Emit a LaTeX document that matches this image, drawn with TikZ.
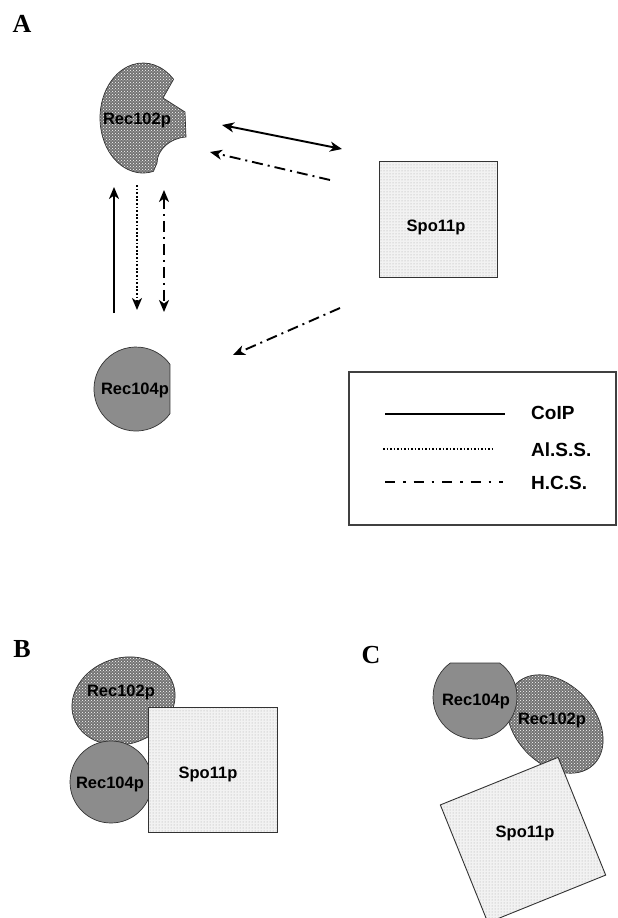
\documentclass[tikz,border=0pt]{standalone}
\usepackage{fontspec}
\setmainfont{Liberation Serif}
\setsansfont{Liberation Sans}
\usepackage{tikz}
\usetikzlibrary{arrows.meta, calc, positioning, patterns}

\tikzset{
  prot/.style={font=\sffamily\bfseries\fontsize{16.5}{18}\selectfont, inner sep=0pt},
  panel/.style={font=\bfseries\fontsize{26}{26}\selectfont, inner sep=0pt},
  legtext/.style={font=\sffamily\bfseries\fontsize{19}{20}\selectfont, inner sep=0pt, anchor=west},
  rec102/.style={draw=black!80, line width=0.7pt, preaction={fill=black!55}, pattern=crosshatch dots, pattern color=white},
  rec104/.style={draw=black!80, line width=0.7pt, fill=black!45},
  spo11/.style={draw=black!80, line width=0.9pt, preaction={fill=black!5}, pattern=dots, pattern color=black!35},
  coip/.style={line width=1.9pt},
  alss/.style={line width=1.9pt, dash pattern=on 1.8pt off 1.8pt},
  hcs/.style={line width=1.9pt, dash pattern=on 11pt off 5pt on 2pt off 5pt},
}

\begin{document}
\begin{tikzpicture}[x=1pt, y=-1pt, >={Stealth[length=12pt,width=10pt,inset=3.5pt]}]
\useasboundingbox (0,0) rectangle (618,918);

% Panel labels
\node[panel] (labA) at (22,24) {A};
\node[panel] (labB) at (22,649) {B};
\node[panel] (labC) at (371,655) {C};

% A: proteins
\draw[rec102] ($(143,118)+(76:43 and 55)$) arc[start angle=76, end angle=315.3, x radius=43, y radius=55]
  -- (163,98) -- (185,112) -- (186,137) .. controls (170,138) and (157,150) .. (157,163) -- cycle;
\draw[spo11] (379,161) rectangle (497,277);
\draw[rec104] ($(136,389)+(36:42)$) arc[start angle=36, end angle=324, radius=42] -- cycle;
\node[prot] (r102a) at (137,120) {Rec102p};
\node[prot] (s11a) at (436,227) {Spo11p};
\node[prot] (r104a) at (135,390) {Rec104p};

% A: interactions
\coordinate (a1) at (222,125);  \coordinate (a2) at (342,149);
\coordinate (a3) at (330,180);  \coordinate (a4) at (210,152);
\coordinate (a5) at (114,313);  \coordinate (a6) at (114,187);
\coordinate (a7) at (137,185);  \coordinate (a8) at (137,310);
\coordinate (a9) at (164,190);  \coordinate (a10) at (164,312);
\coordinate (a11) at (340,308); \coordinate (a12) at (233,355);
\draw[coip, <->] (a1) -- (a2);
\draw[hcs, ->] (a3) -- (a4);
\draw[coip, ->] (a5) -- (a6);
\draw[alss, ->] (a7) -- (a8);
\draw[hcs, <->] (a9) -- (a10);
\draw[hcs, ->] (a11) -- (a12);

% Legend
\draw[line width=1.2pt, black!75] (349,372) rectangle (616,525);
\node[legtext] (lcoip) at (531,413) {CoIP};
\node[legtext] (lalss) at (531,450) {Al.S.S.};
\node[legtext] (lhcs) at (531,483) {H.C.S.};
\coordinate (l1) at (385,414); \coordinate (l2) at (505,414);
\coordinate (l3) at (383,449); \coordinate (l4) at (495,449);
\coordinate (l5) at (385,482); \coordinate (l6) at (503,482);
\draw[coip, line width=2.4pt] (l1) -- (l2);
\draw[alss, dash pattern=on 1.5pt off 2pt] (l3) -- (l4);
\draw[hcs, line width=2.2pt, dash pattern=on 10pt off 8pt on 2.5pt off 8pt] (l5) -- (l6);

% B: complex
\draw[rec102, rotate around={19:(123.5,701)}] (123.5,701) ellipse [x radius=52.5, y radius=43];
\draw[rec104] (111,782) circle [radius=41];
\draw[spo11] (148,707) rectangle (277,832);
\node[prot] (r102b) at (121,692) {Rec102p};
\node[prot] (r104b) at (110,784) {Rec104p};
\node[prot] (s11b) at (208,774) {Spo11p};

% C: complex
\draw[rec102, rotate around={-47:(555,724)}] (555,724) ellipse [x radius=56, y radius=40];
\draw[rec104] ($(475,697)+(-54:42)$) arc[start angle=-54, end angle=234, radius=42] -- cycle;
\draw[spo11, rotate around={22:(523,840)}] (459.5,776.5) rectangle (586.5,903.5);
\node[prot] (r104c) at (476,701) {Rec104p};
\node[prot] (r102c) at (552,720) {Rec102p};
\node[prot] (s11c) at (525,833) {Spo11p};

\end{tikzpicture}
\end{document}
